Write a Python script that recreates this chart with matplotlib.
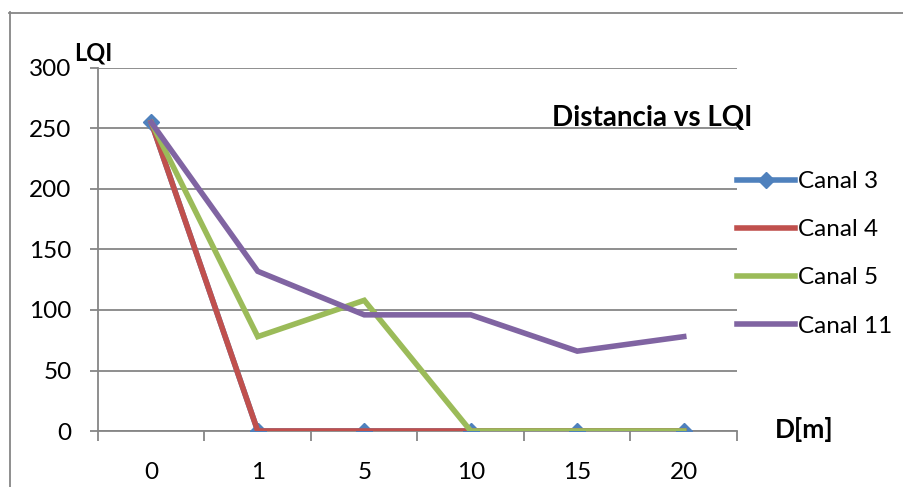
import matplotlib
matplotlib.use("Agg")
import matplotlib.pyplot as plt
from matplotlib.lines import Line2D
import numpy as np

plt.rcParams['font.family'] = ['Lato', 'DejaVu Sans']

distances = ["0", "1", "5", "10", "15", "20"]
canal_3 = [255, 0, 0, 0, 0, 0]
canal_4 = [255, 0, 0, 0, 0, 0]
canal_5 = [255, 78, 108, 0, 0, 0]
canal_11 = [255, 132, 96, 96, 66, 78]
y_ticks = [0, 50, 100, 150, 200, 250, 300]

W, H = 904, 487
fig = plt.figure(figsize=(W / 100, H / 100), dpi=100)
fig.patch.set_facecolor("white")

def fx(px):
    return px / W

def fy(py):
    return 1 - py / H

ax = fig.add_axes([fx(98), fy(431), fx(737) - fx(98), fy(68) - fy(431)])

grid_c = "#868686"
x = np.arange(len(distances))
lw = 4.0

ax.plot(x, canal_3, color="#4F81BD", lw=lw, marker="D", ms=8,
        label="Canal 3", solid_joinstyle="miter", zorder=3)
ax.plot(x, canal_4, color="#C0504D", lw=lw, label="Canal 4",
        solid_joinstyle="miter", zorder=4)
ax.plot(x, canal_5, color="#9BBB59", lw=lw, label="Canal 5",
        solid_joinstyle="miter", zorder=5)
ax.plot(x, canal_11, color="#8064A2", lw=lw, label="Canal 11",
        solid_joinstyle="miter", zorder=6)

ax.set_xlim(-0.5, len(distances) - 0.5)
ax.set_ylim(0, 300)

tick_fs = 17.5
ax.set_yticks(y_ticks)
ax.set_yticklabels([str(v) for v in y_ticks], fontsize=tick_fs)
ax.tick_params(axis="y", length=6, width=1.3, color=grid_c, pad=13)
ax.yaxis.grid(True, color=grid_c, lw=1.3)
ax.set_axisbelow(True)

ax.set_xticks(x)
ax.set_xticklabels(distances, fontsize=tick_fs)
ax.set_xticks(np.arange(-0.5, len(distances)), minor=True)
ax.tick_params(axis="x", which="major", length=0, pad=22)
ax.tick_params(axis="x", which="minor", length=7, width=1.3, color=grid_c)

for side in ("top", "right"):
    ax.spines[side].set_visible(False)
for side in ("left", "bottom"):
    ax.spines[side].set_color(grid_c)
    ax.spines[side].set_linewidth(1.3)

# axis captions and title
fig.text(fx(74), fy(53), "LQI", fontsize=17, fontweight="bold", va="center", ha="left")
fig.text(fx(775), fy(430), "D[m]", fontsize=19, fontweight="bold", va="center", ha="left")
fig.text(fx(552), fy(118), "Distancia vs LQI", fontsize=20, fontweight="bold",
         va="center", ha="left")

fig.legend(loc="upper left", bbox_to_anchor=(fx(737), fy(171)), frameon=False,
           fontsize=tick_fs, handlelength=2.4, handletextpad=0.12, labelspacing=1.12,
           borderpad=0, borderaxespad=0)

# chart frame
fig.add_artist(Line2D([fx(9.5), fx(9.5)], [fy(12), 0], color=grid_c, lw=1.3))
fig.add_artist(Line2D([fx(9), 1], [fy(12.5), fy(12.5)], color=grid_c, lw=1.3))

fig.savefig("out.png", dpi=100)
